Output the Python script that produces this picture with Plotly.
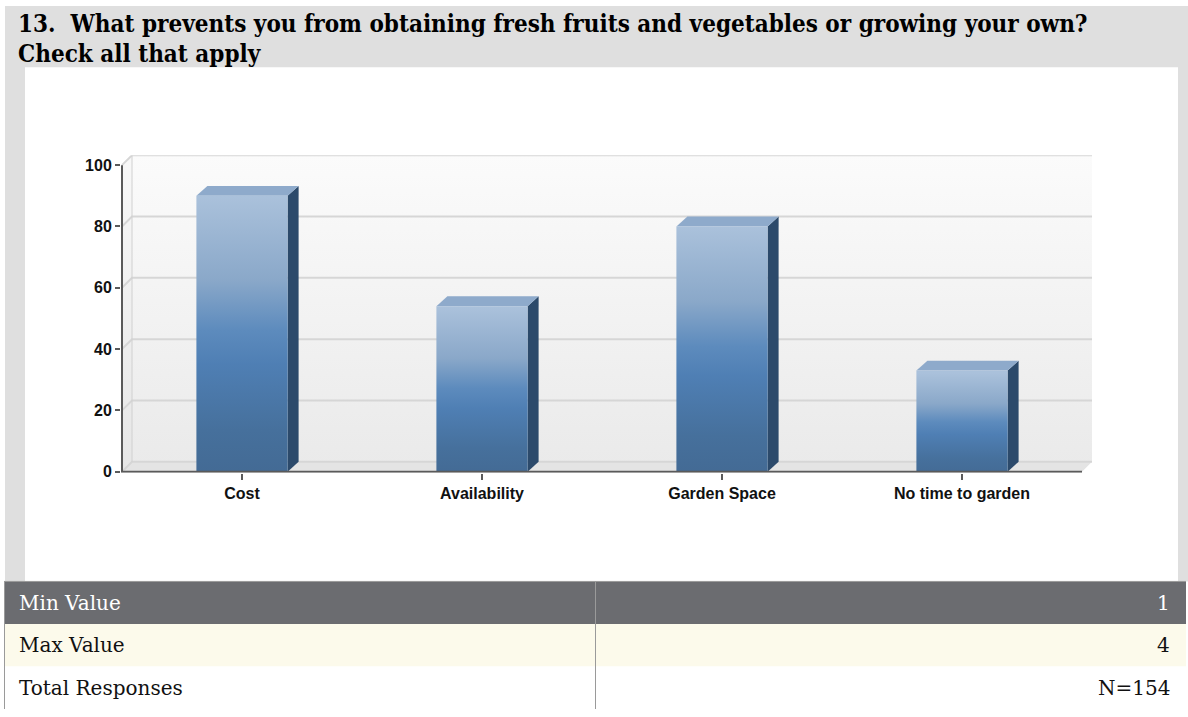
import plotly.graph_objects as go

# ---------------- data ----------------
categories = ["Cost", "Availability", "Garden Space", "No time to garden"]
counts = [90, 54, 80, 33]
y_ticks = [0, 20, 40, 60, 80, 100]
title_lines = [
    "13.  What prevents you from obtaining fresh fruits and vegetables or growing your own?",
    "Check all that apply",
]
stat_labels = ["Min Value", "Max Value", "Total Responses"]
stat_values = ["1", "4", "N=154"]

# ---------------- geometry (pixels) ----------------
W, H = 1188, 717
PL, PR = 122, 1092      # plot area left/right (front axis left .. back wall right)
PB, PT = 477, 157       # plot area bottom (y=0 front) / top (back wall top)
DEPTH = 10              # 3D depth in px
PAD = 1                 # px padding so the drawn axis lines are not clipped
YMAX = 100
n = len(categories)

px_per_x = (PR - PL - DEPTH) / n
px_per_y = (PB - PT - DEPTH) / YMAX
dx = DEPTH / px_per_x
dy = DEPTH / px_per_y
bdx = 11 / px_per_x
bdy = 10 / px_per_y
hw = 0.19
xl, xr = -0.5, n - 0.5

def fx(px):
    return px / W

def fy(py):
    return 1 - py / H

fig = go.Figure()

def poly(xs, ys, **kw):
    fig.add_trace(go.Scatter(x=xs + [xs[0]], y=ys + [ys[0]], mode="lines", fill="toself",
                             hoverinfo="skip", showlegend=False, **kw))

NOLINE = dict(width=0, color="rgba(0,0,0,0)")

# back wall
poly([xl + dx, xr + dx, xr + dx, xl + dx], [dy, dy, YMAX + dy, YMAX + dy], line=NOLINE,
     fillgradient=dict(type="vertical", colorscale=[[0, "#eaeaea"], [1, "#fbfbfb"]],
                       start=dy, stop=YMAX + dy))
# left wall
poly([xl, xl + dx, xl + dx, xl], [0, dy, YMAX + dy, YMAX], line=NOLINE,
     fillgradient=dict(type="vertical", colorscale=[[0, "#e6e6e6"], [1, "#f8f8f8"]],
                       start=0, stop=YMAX + dy))
# floor
poly([xl, xr, xr + dx, xl + dx], [0, 0, dy, dy], line=NOLINE, fillcolor="#e4e4e4")

# gridlines on the left + back wall
gx, gy = [], []
for v in y_ticks:
    gx += [xl, xl + dx, xr + dx, None]
    gy += [v, v + dy, v + dy, None]
fig.add_trace(go.Scatter(x=gx, y=gy, mode="lines", line=dict(color="#d6d6d6", width=2),
                         hoverinfo="skip", showlegend=False))
# back-wall left edge
fig.add_trace(go.Scatter(x=[xl + dx, xl + dx], y=[dy, YMAX + dy], mode="lines",
                         line=dict(color="#d0d0d0", width=1), hoverinfo="skip", showlegend=False))

# bars
bar_scale = [[0, "#436a94"], [0.16, "#46709c"], [0.4, "#4f7fb4"], [0.52, "#5d8bbd"],
             [0.7, "#8aa8c9"], [1, "#aac1db"]]
for i, v in enumerate(counts):
    # side
    poly([i + hw, i + hw + bdx, i + hw + bdx, i + hw], [0, bdy, v + bdy, v],
         line=NOLINE, fillcolor="#2c4a6b")
    # top
    poly([i - hw, i + hw, i + hw + bdx, i - hw + bdx], [v, v, v + bdy, v + bdy],
         line=NOLINE, fillcolor="#8eaacb")
    # front
    poly([i - hw, i + hw, i + hw, i - hw], [0, 0, v, v], line=NOLINE,
         fillgradient=dict(type="vertical", colorscale=bar_scale, start=0, stop=v))

# front axis lines
fig.add_trace(go.Scatter(x=[xl, xl, xr], y=[YMAX, 0, 0], mode="lines",
                         line=dict(color="#5a5a5a", width=2), hoverinfo="skip", showlegend=False))

tick_font = dict(family="Liberation Sans, Arial, sans-serif", size=16, color="#111111", weight="bold")
fig.update_xaxes(range=[xl - PAD / px_per_x, xr + dx], domain=[fx(PL - PAD), fx(PR)],
                 tickvals=list(range(n)), ticktext=categories, ticks="outside", ticklen=6,
                 tickwidth=1.5, tickcolor="#5a5a5a", showgrid=False, zeroline=False,
                 showline=False, tickfont=tick_font, fixedrange=True)
fig.update_yaxes(range=[-PAD / px_per_y, YMAX + dy], domain=[fy(PB + PAD), fy(PT)],
                 tickvals=y_ticks, ticks="outside", ticklen=5, tickwidth=1.5,
                 tickcolor="#5a5a5a", showgrid=False, zeroline=False, showline=False,
                 tickfont=tick_font, fixedrange=True)

shapes = []
# grey frame and white chart panel
shapes.append(dict(type="rect", xref="paper", yref="paper", x0=fx(5), x1=fx(1188), y0=fy(588),
                   y1=fy(6), fillcolor="#dfdfdf", line=dict(width=0), layer="below"))
shapes.append(dict(type="rect", xref="paper", yref="paper", x0=fx(25), x1=fx(1178), y0=fy(588),
                   y1=fy(68), fillcolor="#ffffff", line=dict(width=0), layer="below"))

# stats table
row_top = 588
row_h = 43
row_fill = ["#6b6c70", "#fcfaeb", "#ffffff"]
row_text = ["#ffffff", "#111111", "#111111"]
serif = "DejaVu Serif, Liberation Serif, serif"
annotations = []
for r, (lab, val) in enumerate(zip(stat_labels, stat_values)):
    y0p = row_top + r * row_h
    y1p = min(y0p + row_h, H)
    shapes.append(dict(type="rect", xref="paper", yref="paper", x0=fx(4), x1=fx(1186),
                       y0=fy(y1p), y1=fy(y0p), fillcolor=row_fill[r], line=dict(width=0),
                       layer="below"))
    yc = fy((y0p + y1p) / 2)
    annotations.append(dict(xref="paper", yref="paper", x=fx(17), y=yc, text=lab,
                            showarrow=False, xanchor="left", yanchor="middle",
                            font=dict(family=serif, size=20, color=row_text[r])))
    annotations.append(dict(xref="paper", yref="paper", x=fx(1172), y=yc, text=val,
                            showarrow=False, xanchor="right", yanchor="middle",
                            font=dict(family=serif, size=20, color=row_text[r])))
# table borders
shapes.append(dict(type="line", xref="paper", yref="paper", x0=fx(4), x1=fx(1186), y0=fy(588),
                   y1=fy(588), line=dict(color="#9a9a9a", width=1)))
shapes.append(dict(type="line", xref="paper", yref="paper", x0=fx(4.5), x1=fx(4.5), y0=fy(588),
                   y1=fy(717), line=dict(color="#9a9a9a", width=1)))
shapes.append(dict(type="line", xref="paper", yref="paper", x0=fx(595.5), x1=fx(595.5),
                   y0=fy(588), y1=fy(717), line=dict(color="#9a9a9a", width=1)))

# title
for k, t in enumerate(title_lines):
    annotations.append(dict(xref="paper", yref="paper", x=fx(16), y=fy(24 + 30 * k), text="<b>" + t + "</b>",
                            showarrow=False, xanchor="left", yanchor="middle",
                            font=dict(family="DejaVu Serif Condensed, DejaVu Serif, serif", size=24,
                                      color="#000000")))

fig.update_layout(width=W, height=H, margin=dict(l=0, r=0, t=0, b=0, pad=0),
                  paper_bgcolor="#ffffff", plot_bgcolor="rgba(0,0,0,0)",
                  shapes=shapes, annotations=annotations, showlegend=False)

fig.write_html("out.html", config={"displayModeBar": False},
               post_script="document.body.style.margin='0';document.body.style.overflow='hidden';")
